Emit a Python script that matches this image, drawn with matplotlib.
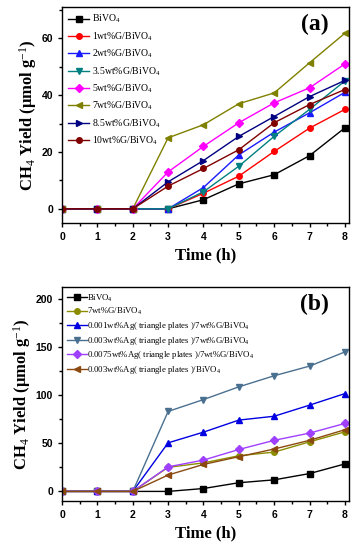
import matplotlib
matplotlib.use("Agg")
import matplotlib.pyplot as plt
from matplotlib.ticker import MultipleLocator

plt.rcParams['mathtext.fontset'] = 'custom'
plt.rcParams['mathtext.rm'] = 'Liberation Serif'
plt.rcParams['mathtext.it'] = 'Liberation Serif:italic'
plt.rcParams['mathtext.bf'] = 'Liberation Serif:bold'

hours = [0, 1, 2, 3, 4, 5, 6, 7, 8]

# panel (a): G/BiVO4 loadings
labels_a = ['BiVO$_4$', '1wt%G/BiVO$_4$', '2wt%G/BiVO$_4$', '3.5wt%G/BiVO$_4$',
            '5wt%G/BiVO$_4$', '7wt%G/BiVO$_4$', '8.5wt%G/BiVO$_4$', '10wt%G/BiVO$_4$']
bivo4 = [0, 0, 0, 0, 3.2, 8.8, 12, 18.7, 28.5]
g1 = [0, 0, 0, 0, 5.5, 11.5, 20.2, 28.4, 35]
g2 = [0, 0, 0, 0, 7.5, 19, 27, 33.8, 41]
g35 = [0, 0, 0, 0, 6, 15, 25.5, 35, 45]
g5 = [0, 0, 0, 13, 22, 30.3, 37.3, 42.6, 51]
g7 = [0, 0, 0, 25, 29.6, 37, 40.8, 51.4, 61.8]
g85 = [0, 0, 0, 9.5, 17, 25.5, 32.5, 39.5, 45.2]
g10 = [0, 0, 0, 8, 14.2, 20.8, 30.3, 36.7, 42]
series_a = [bivo4, g1, g2, g35, g5, g7, g85, g10]
colors_a = ['black', 'red', '#1a1aff', '#008080', '#ff00ff', '#808000', '#000080', '#800000']
markers_a = ['s', 'o', '^', 'v', 'D', '<', '>', 'o']

# panel (b): Ag triangle plates
labels_b = ['BiVO$_4$', '7wt%G/BiVO$_4$',
            '0.001wt%Ag( triangle plates )/7wt%G/BiVO$_4$',
            '0.003wt%Ag( triangle plates )/7wt%G/BiVO$_4$',
            '0.0075wt%Ag( triangle plates )/7wt%G/BiVO$_4$',
            '0.003wt%Ag( triangle plates )/BiVO$_4$']
b_bivo4 = [0, 0, 0, 0, 3, 9, 12, 18.5, 28.5]
b_g7 = [0, 0, 0, 25, 29.6, 37, 40.8, 51.4, 61.8]
ag001 = [0, 0, 0, 50.4, 61.5, 74, 78, 89.5, 101.5]
ag003 = [0, 0, 0, 83, 95.3, 108.5, 120, 130, 144.7]
ag0075 = [0, 0, 0, 25.5, 32.5, 43.5, 53, 60.5, 70.5]
ag003_b = [0, 0, 0, 17, 28, 36, 44, 53, 64]
series_b = [b_bivo4, b_g7, ag001, ag003, ag0075, ag003_b]
colors_b = ['black', '#8c8c00', '#0000e0', '#4a7090', '#a040ff', '#8a4a10']
markers_b = ['s', 'o', '^', 'v', 'D', '<']

fig = plt.figure(figsize=(3.61, 5.5), dpi=100)
ax1 = fig.add_axes([0.172, 0.5945, 0.795, 0.3925])
ax2 = fig.add_axes([0.172, 0.089, 0.795, 0.389])

ylabel = r'CH$_{\mathit{4}}$ Yield (μmol g$^{-1}$)'

def style(ax, ymin, ymax, ymaj, ymin_step, tag):
    ax.set_xlim(0, 8.12)
    ax.set_ylim(ymin, ymax)
    ax.xaxis.set_major_locator(MultipleLocator(1))
    ax.xaxis.set_minor_locator(MultipleLocator(0.5))
    ax.yaxis.set_major_locator(MultipleLocator(ymaj))
    ax.yaxis.set_minor_locator(MultipleLocator(ymin_step))
    ax.tick_params(which='both', direction='out', top=False, right=False,
                   width=1)
    ax.tick_params(which='major', length=3, labelsize=7.5)
    ax.tick_params(which='minor', length=2)
    for lab in ax.get_xticklabels() + ax.get_yticklabels():
        lab.set_fontweight('bold')
        lab.set_family('Liberation Sans')
    for sp in ax.spines.values():
        sp.set_linewidth(1)
    ax.set_xlabel('Time (h)', family='Liberation Serif', fontweight='bold', fontsize=12)
    ax.set_ylabel(ylabel, family='Liberation Serif', fontweight='bold', fontsize=12,
                  labelpad=2)
    ax.text(0.93, 0.92, tag, transform=ax.transAxes, ha='right', va='center',
            family='Liberation Serif', fontweight='bold', fontsize=17)

for vals, c, m, lab in zip(series_a, colors_a, markers_a, labels_a):
    ax1.plot(hours, vals, color=c, marker=m, markersize=4, linewidth=1, label=lab)
style(ax1, -5, 71, 20, 10, '(a)')
ax1.legend(loc='upper left', frameon=False, prop={'family': 'Liberation Serif', 'size': 7},
           handlelength=2.2, labelspacing=0.5, borderaxespad=0.2, handletextpad=0.3)

for vals, c, m, lab in zip(series_b, colors_b, markers_b, labels_b):
    ax2.plot(hours, vals, color=c, marker=m, markersize=4, linewidth=1, label=lab)
style(ax2, -10, 212, 50, 25, '(b)')
ax2.legend(loc='upper left', frameon=False, prop={'family': 'Liberation Serif', 'size': 6.3},
           handlelength=2.2, labelspacing=0.3, borderaxespad=0.2, handletextpad=0.1)

plt.savefig('out.png', dpi=100)
